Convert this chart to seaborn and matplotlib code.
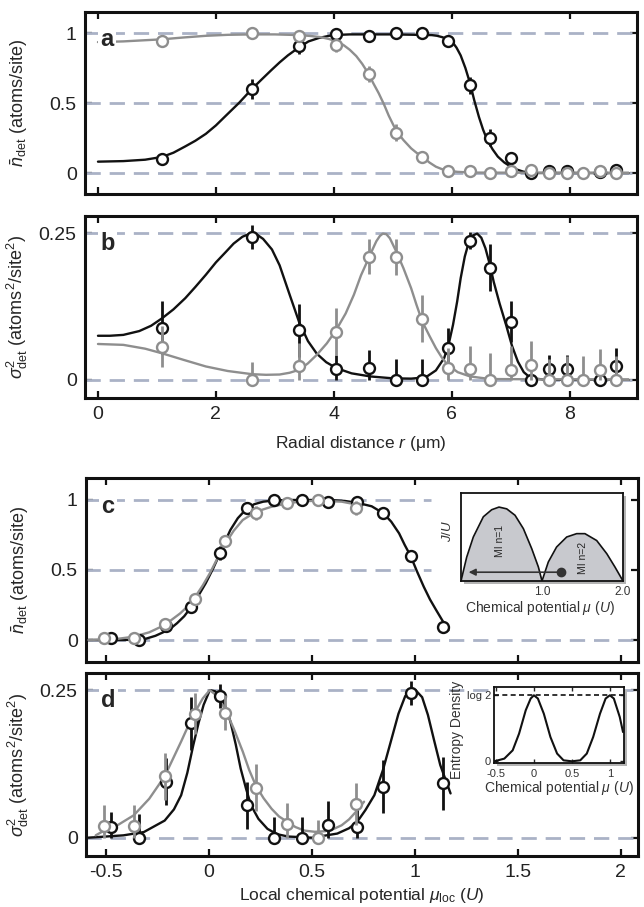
import numpy as np
import matplotlib
matplotlib.use("Agg")
import matplotlib.pyplot as plt
import seaborn as sns
from matplotlib.patches import Rectangle

# ---------------- data: panels a / b (radial profiles) ----------------
r_black = [1.09, 2.61, 3.41, 4.04, 4.59, 5.06, 5.50, 5.93, 6.31, 6.65, 7.00, 7.34, 7.64, 7.95, 8.51, 8.78]
r_gray = [1.09, 2.61, 3.41, 4.04, 4.59, 5.06, 5.50, 5.93, 6.31, 6.65, 7.00, 7.34, 7.64, 7.95, 8.23, 8.51, 8.78]

a_black = [0.10, 0.60, 0.91, 0.99, 0.98, 1.00, 1.00, 0.945, 0.626, 0.252, 0.11, 0.0, 0.017, 0.017, 0.005, 0.02]
a_black_err = [0.03, 0.07, 0.06, 0.04, 0.04, 0.03, 0.03, 0.04, 0.06, 0.06, 0.04, 0.02, 0.02, 0.02, 0.02, 0.03]
a_gray = [0.945, 1.0, 0.98, 0.914, 0.707, 0.288, 0.114, 0.014, 0.014, 0.0, 0.014, 0.02, 0.0, 0.0, 0.0, 0.014, 0.0]
a_gray_err = [0.04, 0.03, 0.03, 0.05, 0.06, 0.06, 0.04, 0.02, 0.02, 0.02, 0.02, 0.03, 0.02, 0.02, 0.02, 0.02, 0.02]

b_black = [0.089, 0.243, 0.084, 0.018, 0.020, 0.0, 0.0, 0.054, 0.237, 0.191, 0.099, 0.0, 0.018, 0.018, 0.0, 0.024]
b_black_err = [0.045, 0.02, 0.045, 0.025, 0.03, 0.035, 0.035, 0.035, 0.015, 0.04, 0.035, 0.01, 0.025, 0.025, 0.01, 0.03]
b_gray = [0.056, 0.0, 0.023, 0.082, 0.210, 0.209, 0.104, 0.020, 0.018, 0.0, 0.017, 0.026, 0.0, 0.0, 0.0, 0.017, 0.0]
b_gray_err = [0.035, 0.03, 0.04, 0.04, 0.03, 0.03, 0.04, 0.035, 0.04, 0.045, 0.04, 0.04, 0.035, 0.04, 0.04, 0.035, 0.04]

# fit curves
a_black_fit_r = [0.0, 0.43, 0.8, 1.09, 1.28, 1.48, 1.65, 1.83, 2.0, 2.17, 2.39, 2.61, 2.78, 2.94, 3.08, 3.22, 3.4, 3.57,
                 3.75, 3.92, 4.1, 4.27, 5.0, 5.66, 5.75, 5.84, 5.93, 6.02, 6.08, 6.15, 6.23, 6.31, 6.38, 6.46, 6.53,
                 6.60, 6.69, 6.78, 6.89, 7.00, 7.1, 7.21, 7.32, 7.42, 9.0]
a_black_fit = [0.081, 0.085, 0.095, 0.115, 0.145, 0.19, 0.23, 0.28, 0.34, 0.41, 0.50, 0.60, 0.67, 0.735, 0.79, 0.84,
               0.895, 0.94, 0.965, 0.98, 0.987, 0.99, 0.99, 0.985, 0.98, 0.97, 0.955, 0.93, 0.895, 0.84, 0.75, 0.64,
               0.52, 0.40, 0.31, 0.236, 0.17, 0.117, 0.075, 0.045, 0.025, 0.01, 0.003, 0.0, 0.0]
a_gray_fit_r = [0.0, 0.43, 1.09, 1.45, 1.83, 2.2, 2.61, 3.0, 3.41, 3.6, 3.78, 3.92, 4.04, 4.16, 4.27, 4.38, 4.48, 4.59,
                4.67, 4.76, 4.85, 4.93, 5.0, 5.06, 5.18, 5.31, 5.40, 5.50, 5.62, 5.73, 5.83, 5.93, 6.1, 6.36, 9.0]
a_gray_fit = [0.935, 0.94, 0.955, 0.968, 0.98, 0.987, 0.99, 0.99, 0.985, 0.979, 0.97, 0.957, 0.94, 0.915, 0.88, 0.835,
              0.78, 0.707, 0.64, 0.57, 0.49, 0.41, 0.35, 0.30, 0.235, 0.176, 0.145, 0.117, 0.075, 0.045, 0.028, 0.017,
              0.008, 0.003, 0.0]

b_black_fit_r = [0.0, 0.2, 0.43, 0.7, 0.9, 1.09, 1.28, 1.48, 1.65, 1.83, 2.0, 2.17, 2.3, 2.45, 2.58, 2.7, 2.80, 2.95,
                 3.08, 3.25, 3.41, 3.56, 3.71, 3.87, 4.04, 4.3, 4.62, 5.0, 5.31, 5.48, 5.59, 5.73, 5.87, 5.95, 6.02,
                 6.09, 6.15, 6.22, 6.29, 6.36, 6.43, 6.5, 6.57, 6.64, 6.71, 6.81, 6.92, 7.02, 7.12, 7.22, 7.34, 7.6, 9.0]
b_black_fit = [0.075, 0.075, 0.0765, 0.083, 0.092, 0.105, 0.12, 0.139, 0.158, 0.179, 0.2, 0.218, 0.232, 0.2437, 0.249,
               0.247, 0.24, 0.222, 0.195, 0.145, 0.0985, 0.066, 0.0445, 0.03, 0.02, 0.011, 0.0057, 0.0025, 0.002,
               0.0035, 0.0065, 0.016, 0.037, 0.062, 0.0935, 0.133, 0.173, 0.21, 0.235, 0.246, 0.249, 0.242, 0.224,
               0.198, 0.167, 0.13, 0.0935, 0.058, 0.031, 0.013, 0.0028, 0.0, 0.0]
b_gray_fit_r = [0.0, 0.43, 0.8, 1.09, 1.45, 1.83, 2.2, 2.61, 2.85, 3.08, 3.25, 3.41, 3.56, 3.71, 3.88, 4.04, 4.2, 4.34,
                4.46, 4.59, 4.66, 4.72, 4.78, 4.83, 4.89, 4.95, 5.06, 5.18, 5.31, 5.4, 5.50, 5.62, 5.73, 5.83, 5.93,
                6.1, 6.31, 6.65, 9.0]
b_gray_fit = [0.061, 0.0595, 0.053, 0.045, 0.034, 0.0227, 0.015, 0.0096, 0.0085, 0.009, 0.012, 0.017, 0.028, 0.0425,
              0.062, 0.085, 0.113, 0.145, 0.178, 0.207, 0.223, 0.236, 0.245, 0.249, 0.248, 0.241, 0.218, 0.19, 0.156,
              0.128, 0.099, 0.075, 0.054, 0.038, 0.0255, 0.013, 0.0057, 0.0013, 0.0]

# ---------------- data: panels c / d (vs local chemical potential) ----------------
mu_black = [-0.475, -0.339, -0.21, -0.085, 0.054, 0.184, 0.318, 0.45, 0.58, 0.72, 0.847, 0.979, 1.137]
mu_gray = [-0.509, -0.365, -0.215, -0.066, 0.08, 0.228, 0.38, 0.528, 0.714]

c_black = [0.012, 0.0, 0.10, 0.238, 0.624, 0.945, 1.0, 1.0, 0.983, 0.988, 0.91, 0.602, 0.095]
c_black_err = [0.02, 0.02, 0.03, 0.04, 0.05, 0.04, 0.03, 0.03, 0.04, 0.03, 0.04, 0.04, 0.03]
c_gray = [0.017, 0.017, 0.114, 0.29, 0.707, 0.91, 0.976, 1.0, 0.945]
c_gray_err = [0.02, 0.02, 0.04, 0.04, 0.04, 0.05, 0.04, 0.03, 0.05]

d_black = [0.018, 0.0, 0.095, 0.194, 0.24, 0.055, 0.0, 0.0, 0.022, 0.018, 0.086, 0.245, 0.092]
d_black_err = [0.025, 0.04, 0.04, 0.045, 0.02, 0.04, 0.035, 0.035, 0.04, 0.035, 0.045, 0.02, 0.045]
d_gray = [0.02, 0.02, 0.104, 0.21, 0.212, 0.085, 0.024, 0.0, 0.057]
d_gray_err = [0.035, 0.035, 0.04, 0.035, 0.03, 0.04, 0.035, 0.03, 0.035]

c_black_fit_mu = [-0.585, -0.415, -0.316, -0.26, -0.215, -0.18, -0.155, -0.12, -0.085, -0.05, -0.016, 0.02, 0.054,
                  0.08, 0.104, 0.14, 0.184, 0.22, 0.264, 0.32, 0.384, 0.584, 0.66, 0.72, 0.79, 0.847, 0.885, 0.923,
                  0.95, 0.979, 1.01, 1.043, 1.073, 1.103, 1.133, 1.163]
c_black_fit = [0.0, 0.0, 0.005, 0.03, 0.06, 0.09, 0.12, 0.17, 0.238, 0.32, 0.405, 0.51, 0.62, 0.71, 0.786, 0.87, 0.94,
               0.97, 0.988, 0.997, 1.0, 1.0, 0.993, 0.98, 0.955, 0.905, 0.845, 0.762, 0.68, 0.6, 0.49, 0.38, 0.29,
               0.214, 0.14, 0.07]
c_gray_fit_mu = [-0.585, -0.45, -0.365, -0.29, -0.215, -0.14, -0.1, -0.066, -0.03, 0.004, 0.04, 0.08, 0.12, 0.164,
                 0.228, 0.30, 0.38, 0.45, 0.528, 0.644, 0.69, 0.733]
c_gray_fit = [0.0, 0.007, 0.024, 0.055, 0.107, 0.19, 0.245, 0.31, 0.39, 0.476, 0.58, 0.69, 0.78, 0.857, 0.916, 0.95,
              0.976, 0.99, 0.995, 0.988, 0.975, 0.952]

d_black_fit_mu = [-0.585, -0.415, -0.316, -0.215, -0.17, -0.135, -0.105, -0.076, -0.05, -0.026, 0.004, 0.03, 0.054,
                  0.08, 0.104, 0.13, 0.154, 0.18, 0.204, 0.24, 0.284, 0.33, 0.384, 0.5, 0.623, 0.68, 0.72, 0.76,
                  0.803, 0.845, 0.883, 0.92, 0.953, 0.98, 1.003, 1.035, 1.063, 1.093, 1.123, 1.173]
d_black_fit = [0.0, 0.004, 0.0096, 0.029, 0.048, 0.072, 0.11, 0.157, 0.195, 0.225, 0.25, 0.248, 0.24, 0.222, 0.197,
               0.158, 0.117, 0.083, 0.055, 0.032, 0.015, 0.006, 0.002, 0.0, 0.007, 0.016, 0.027, 0.047, 0.072, 0.115,
               0.163, 0.21, 0.24, 0.248, 0.25, 0.238, 0.208, 0.165, 0.123, 0.075]
d_gray_fit_mu = [-0.55, -0.509, -0.44, -0.365, -0.29, -0.215, -0.135, -0.1, -0.066, -0.03, 0.004, 0.04, 0.08, 0.12,
                 0.164, 0.195, 0.228, 0.265, 0.304, 0.34, 0.38, 0.42, 0.464, 0.514, 0.564, 0.6, 0.644, 0.68, 0.714,
                 0.753]
d_gray_fit = [0.004, 0.012, 0.022, 0.038, 0.066, 0.104, 0.163, 0.19, 0.214, 0.236, 0.25, 0.24, 0.217, 0.185, 0.146,
              0.115, 0.088, 0.067, 0.049, 0.036, 0.027, 0.018, 0.012, 0.010, 0.011, 0.014, 0.021, 0.031, 0.044, 0.061]

# ---------------- inset data ----------------
lobe1_mu = [0.0, 0.07, 0.152, 0.276, 0.379, 0.469, 0.564, 0.667, 0.77, 0.873, 0.955, 1.0]
lobe1_J = [0.0, 0.27, 0.5, 0.73, 0.81, 0.84, 0.82, 0.747, 0.595, 0.368, 0.16, 0.0]
lobe2_mu = [1.0, 1.078, 1.18, 1.305, 1.428, 1.53, 1.675, 1.8, 1.9, 2.0]
lobe2_J = [0.0, 0.216, 0.386, 0.5, 0.538, 0.538, 0.46, 0.31, 0.16, 0.0]

ent_mu = [-0.52, -0.39, -0.28, -0.196, -0.108, -0.043, 0.0, 0.052, 0.13, 0.217, 0.305, 0.39, 0.5, 0.61, 0.696, 0.78,
          0.87, 0.944, 1.0, 1.052, 1.13, 1.173]
ent_S = [0.0, 0.028, 0.115, 0.29, 0.536, 0.659, 0.693, 0.659, 0.5, 0.255, 0.081, 0.01, 0.0, 0.01, 0.081, 0.255, 0.5,
         0.659, 0.693, 0.659, 0.465, 0.307]

# ---------------- style ----------------
sns.set_theme(style="ticks")
plt.rcParams["font.family"] = ["Liberation Sans", "DejaVu Sans"]
plt.rcParams["mathtext.fontset"] = "custom"
plt.rcParams["mathtext.rm"] = "Liberation Sans"
plt.rcParams["mathtext.it"] = "Liberation Sans:italic"
plt.rcParams["mathtext.bf"] = "Liberation Sans:bold"

BLACK = "#111111"
GRAY = "#8e8e8e"
DASH = "#aab2c6"
LOBE = "#c8c9ce"

fig = plt.figure(figsize=(6.44, 9.07), dpi=100)
W, H = 644, 907


def px_axes(left, top, right, bottom):
    return fig.add_axes([left / W, 1 - bottom / H, (right - left) / W, (bottom - top) / H])


ax_a = px_axes(85, 12, 637, 194)
ax_b = px_axes(85, 216, 637, 398)
ax_c = px_axes(86, 478, 638, 662)
ax_d = px_axes(86, 673, 638, 856)


def style(ax, xlim, ylim, xticks, yticks, ylabels, show_x):
    ax.set_xlim(xlim)
    ax.set_ylim(ylim)
    ax.set_xticks(xticks)
    ax.set_yticks(yticks)
    ax.set_yticklabels(ylabels)
    if not show_x:
        ax.set_xticklabels([])
    ax.tick_params(direction="in", top=True, right=True, length=5, width=1.6,
                   labelsize=14, pad=6, color=BLACK, labelcolor="#222222")
    for s in ax.spines.values():
        s.set_linewidth(2.2)
        s.set_color(BLACK)
    ax.yaxis.set_label_coords(-0.1, 0.5)


def points(ax, x, y, err, color, z):
    y = np.asarray(y)
    err = np.asarray(err)
    lower = np.minimum(err, y)
    ax.errorbar(x, y, yerr=[lower, err], fmt="none", ecolor=color, elinewidth=2.0, capsize=0, zorder=z)
    sns.scatterplot(x=x, y=y, ax=ax, s=62, color="white", edgecolor=color, linewidth=1.7,
                    zorder=z + 0.1, legend=False)


def curve(ax, x, y, color):
    sns.lineplot(x=x, y=y, ax=ax, color=color, lw=1.7, sort=False, estimator=None, zorder=3)


def letter(ax, s):
    ax.text(0.028, 0.812, s, transform=ax.transAxes, fontsize=17, fontweight="bold", va="baseline",
            ha="left", zorder=4, bbox=dict(fc="white", ec="none", pad=1.5))


dash_kw = dict(color=DASH, lw=2.0, linestyle=(0, (5.5, 3.2)), zorder=1)

# panel a
for yv in [0, 0.5, 1]:
    ax_a.axhline(yv, **dash_kw)
curve(ax_a, a_black_fit_r, a_black_fit, BLACK)
curve(ax_a, a_gray_fit_r, a_gray_fit, GRAY)
points(ax_a, r_black, a_black, a_black_err, BLACK, 5)
points(ax_a, r_gray, a_gray, a_gray_err, GRAY, 6)
style(ax_a, (-0.22, 9.14), (-0.15, 1.15), [0, 2, 4, 6, 8], [0, 0.5, 1], ["0", "0.5", "1"], False)
ax_a.set_ylabel(r"$\bar{n}_{\mathrm{det}}$ (atoms/site)", fontsize=13)
letter(ax_a, "a")

# panel b
for yv in [0, 0.25]:
    ax_b.axhline(yv, **dash_kw)
curve(ax_b, b_black_fit_r, b_black_fit, BLACK)
curve(ax_b, b_gray_fit_r, b_gray_fit, GRAY)
points(ax_b, r_black, b_black, b_black_err, BLACK, 5)
points(ax_b, r_gray, b_gray, b_gray_err, GRAY, 6)
style(ax_b, (-0.22, 9.14), (-0.031, 0.279), [0, 2, 4, 6, 8], [0, 0.25], ["0", "0.25"], True)
ax_b.set_ylabel(r"$\sigma^2_{\mathrm{det}}$ (atoms$^2$/site$^2$)", fontsize=13)
ax_b.set_xlabel(r"Radial distance $r$ (μm)", fontsize=12.5)
ax_b.xaxis.set_label_coords(0.5, -0.2)
letter(ax_b, "b")

# panel c
ax_c.axhline(0, **dash_kw)
ax_c.hlines([0.5, 1], -0.6, 1.08, colors=DASH, lw=2.0, linestyles=[(0, (5.5, 3.2))], zorder=1)
curve(ax_c, c_black_fit_mu, c_black_fit, BLACK)
curve(ax_c, c_gray_fit_mu, c_gray_fit, GRAY)
points(ax_c, mu_black, c_black, c_black_err, BLACK, 5)
points(ax_c, mu_gray, c_gray, c_gray_err, GRAY, 6)
style(ax_c, (-0.597, 2.083), (-0.157, 1.157), [-0.5, 0, 0.5, 1, 1.5, 2], [0, 0.5, 1], ["0", "0.5", "1"], False)
ax_c.set_ylabel(r"$\bar{n}_{\mathrm{det}}$ (atoms/site)", fontsize=13)
letter(ax_c, "c")

# panel d
for yv in [0, 0.25]:
    ax_d.axhline(yv, **dash_kw)
curve(ax_d, d_black_fit_mu, d_black_fit, BLACK)
curve(ax_d, d_gray_fit_mu, d_gray_fit, GRAY)
points(ax_d, mu_black, d_black, d_black_err, BLACK, 5)
points(ax_d, mu_gray, d_gray, d_gray_err, GRAY, 6)
style(ax_d, (-0.597, 2.083), (-0.031, 0.279), [-0.5, 0, 0.5, 1, 1.5, 2], [0, 0.25], ["0", "0.25"], True)
ax_d.set_xticklabels(["-0.5", "0", "0.5", "1", "1.5", "2"])
ax_d.set_ylabel(r"$\sigma^2_{\mathrm{det}}$ (atoms$^2$/site$^2$)", fontsize=13)
ax_d.set_xlabel(r"Local chemical potential $\mu_{\mathrm{loc}}$ ($U$)", fontsize=12.5)
ax_d.xaxis.set_label_coords(0.5, -0.165)
letter(ax_d, "d")


# ---------------- insets ----------------
def shadow(left, top, right, bottom, off=3):
    fig.patches.append(Rectangle(((left + off) / W, 1 - (bottom + off) / H), (right - left) / W,
                                 (bottom - top) / H, transform=fig.transFigure, fc="#b4b4b4",
                                 ec="none", zorder=2))


shadow(461, 493, 623, 581)
ins_c = px_axes(461, 493, 623, 581)
ins_c.set_zorder(5)
ins_c.fill_between(lobe1_mu, lobe1_J, color=LOBE, lw=0)
ins_c.fill_between(lobe2_mu, lobe2_J, color=LOBE, lw=0)
sns.lineplot(x=lobe1_mu, y=lobe1_J, ax=ins_c, color=BLACK, lw=1.2, sort=False, estimator=None)
sns.lineplot(x=lobe2_mu, y=lobe2_J, ax=ins_c, color=BLACK, lw=1.2, sort=False, estimator=None)
ins_c.annotate("", xy=(0.06, 0.1), xytext=(1.235, 0.1),
               arrowprops=dict(arrowstyle="-|>", color="#333333", lw=1.2, mutation_scale=10))
ins_c.plot([1.235], [0.1], "o", color="#333333", ms=6)
ins_c.text(0.48, 0.46, "MI n=1", rotation=90, ha="center", va="center", fontsize=7.5)
ins_c.text(1.51, 0.26, "MI n=2", rotation=90, ha="center", va="center", fontsize=7.5)
ins_c.set_xlim(0, 2)
ins_c.set_ylim(0, 1)
ins_c.set_xticks([])
ins_c.set_yticks([])
for s in ins_c.spines.values():
    s.set_linewidth(1.3)
    s.set_color(BLACK)
ins_c.text(1.0, -0.06, "1.0", ha="center", va="top", fontsize=8.5, color="#333333")
ins_c.text(2.0, -0.06, "2.0", ha="center", va="top", fontsize=8.5, color="#333333")
ins_c.text(0.98, -0.2, r"Chemical potential $\mu$ ($U$)", ha="center", va="top", fontsize=10, color="#333333")
ins_c.text(-0.17, 0.57, r"$J/U$", rotation=90, ha="center", va="center", fontsize=9.5, color="#333333")

shadow(494, 687, 624, 763)
ins_d = px_axes(494, 687, 624, 763)
ins_d.set_zorder(5)
ins_d.axhline(0.693, color=BLACK, lw=1.2, linestyle=(0, (3, 2)))
sns.lineplot(x=ent_mu, y=ent_S, ax=ins_d, color=BLACK, lw=1.5, sort=False, estimator=None)
ins_d.set_xlim(-0.526, 1.186)
ins_d.set_ylim(-0.018, 0.78)
ins_d.set_xticks([-0.5, 0, 0.5, 1])
ins_d.set_xticklabels(["-0.5", "0", "0.5", "1"])
ins_d.set_yticks([0, 0.693])
ins_d.set_yticklabels(["0", "log 2"])
ins_d.tick_params(direction="in", top=True, right=True, length=3, width=1, labelsize=8, pad=2,
                  labelcolor="#333333")
ins_d.tick_params(axis="x", pad=4)
for s in ins_d.spines.values():
    s.set_linewidth(1.3)
    s.set_color(BLACK)
ins_d.set_xlabel(r"Chemical potential $\mu$ ($U$)", fontsize=10, labelpad=0, color="#333333")
ins_d.set_ylabel("Entropy Density", fontsize=10, color="#333333")
ins_d.yaxis.set_label_coords(-0.23, 0.44)

fig.savefig("out.png", dpi=100)
